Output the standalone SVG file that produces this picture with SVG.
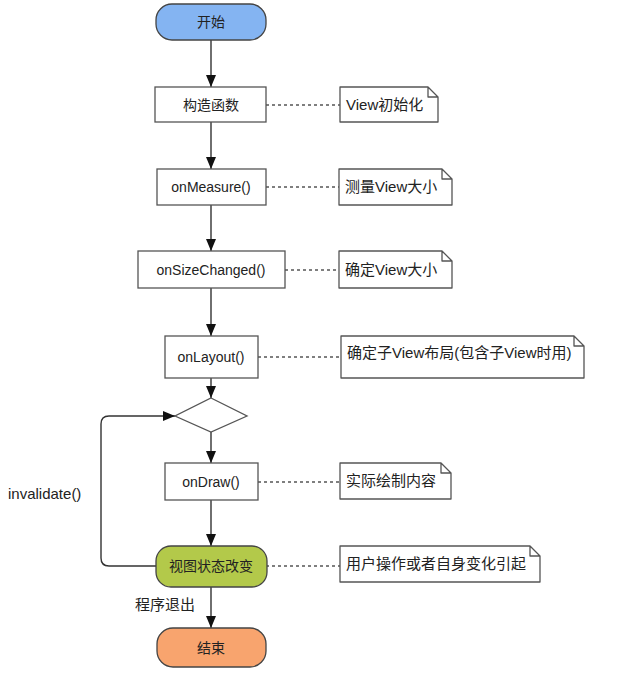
<svg xmlns="http://www.w3.org/2000/svg" width="621" height="695" viewBox="0 0 621 695">
<style>
.box{fill:#fff;stroke:#555;stroke-width:1.3}
.note{fill:#fff;stroke:#555;stroke-width:1.3;stroke-linejoin:round}
.t{font-family:"Liberation Sans","Noto Sans CJK SC",sans-serif;font-size:14px;fill:#222;text-anchor:middle;dominant-baseline:central}
.nt{font-family:"Liberation Sans","Noto Sans CJK SC",sans-serif;font-size:15px;fill:#222;dominant-baseline:central}
.edge{stroke:#333;stroke-width:1.4;fill:none}
.dot{stroke:#555;stroke-width:1.4;stroke-dasharray:3 3;fill:none}
</style>
<defs>
<marker id="ah" markerWidth="12" markerHeight="12" viewBox="0 0 12 12" refX="12" refY="6" orient="auto" markerUnits="userSpaceOnUse">
<path d="M0,1 L12,6 L0,11 Z" fill="#111"/>
</marker>
</defs>
<rect width="621" height="695" fill="#fff"/>
<g id="connectors">
<line class="edge" x1="211" y1="40" x2="211" y2="87" marker-end="url(#ah)"/>
<line class="edge" x1="211" y1="122" x2="211" y2="169" marker-end="url(#ah)"/>
<line class="edge" x1="211" y1="205" x2="211" y2="251" marker-end="url(#ah)"/>
<line class="edge" x1="211" y1="288" x2="211" y2="336" marker-end="url(#ah)"/>
<line class="edge" x1="211" y1="378" x2="211" y2="398" marker-end="url(#ah)"/>
<line class="edge" x1="211" y1="432" x2="211" y2="463" marker-end="url(#ah)"/>
<line class="edge" x1="211" y1="500" x2="211" y2="546" marker-end="url(#ah)"/>
<line class="edge" x1="211" y1="587" x2="211" y2="628" marker-end="url(#ah)"/>
<path class="edge" d="M156,566 H109 Q101,566 101,558 V424 Q101,416 109,416 H175" marker-end="url(#ah)"/>
<line class="dot" x1="266" y1="105" x2="340" y2="105"/>
<line class="dot" x1="266" y1="187" x2="339" y2="187"/>
<line class="dot" x1="285" y1="270" x2="339" y2="270"/>
<line class="dot" x1="258" y1="357" x2="341" y2="357"/>
<line class="dot" x1="258" y1="482" x2="340" y2="482"/>
<line class="dot" x1="266" y1="566" x2="340" y2="566"/>
<text class="nt" x="8" y="493">invalidate()</text>
<text class="nt" x="135" y="604">程序退出</text>
</g>
<g id="start">
<rect x="156" y="4" width="110" height="36" rx="16" fill="#84b4f2" stroke="#444" stroke-width="1.3"/>
<text class="t" x="211" y="22">开始</text>
</g>
<g id="ctor">
<rect class="box" x="155" y="87" width="111" height="35"/>
<text class="t" x="211" y="105">构造函数</text>
</g>
<g id="onMeasure">
<rect class="box" x="157" y="169" width="109" height="36"/>
<text class="t" x="211" y="187">onMeasure()</text>
</g>
<g id="onSizeChanged">
<rect class="box" x="138" y="251" width="147" height="37"/>
<text class="t" x="211" y="270">onSizeChanged()</text>
</g>
<g id="onLayout">
<rect class="box" x="165" y="336" width="93" height="42"/>
<text class="t" x="211" y="357">onLayout()</text>
</g>
<g id="decision">
<polygon class="box" points="211,398 247,416 211,432 175,416"/>
</g>
<g id="onDraw">
<rect class="box" x="165" y="463" width="93" height="37"/>
<text class="t" x="211" y="482">onDraw()</text>
</g>
<g id="stateChange">
<rect x="156" y="546" width="111" height="41" rx="15" fill="#b3c94a" stroke="#444" stroke-width="1.3"/>
<text class="t" x="211" y="566">视图状态改变</text>
</g>
<g id="end">
<rect x="157" y="628" width="109" height="39" rx="16" fill="#f8a46e" stroke="#444" stroke-width="1.3"/>
<text class="t" x="211" y="648">结束</text>
</g>
<g id="note1">
<path class="note" d="M340,87 H428 L438,97 V122 H340 Z M428,87 V97 H438"/>
<text class="nt" x="346" y="104">View初始化</text>
</g>
<g id="note2">
<path class="note" d="M339,169 H442 L452,179 V205 H339 Z M442,169 V179 H452"/>
<text class="nt" x="345" y="186">测量View大小</text>
</g>
<g id="note3">
<path class="note" d="M339,251 H442 L452,261 V288 H339 Z M442,251 V261 H452"/>
<text class="nt" x="345" y="269">确定View大小</text>
</g>
<g id="note4">
<path class="note" d="M341,336 H574 L584,346 V378 H341 Z M574,336 V346 H584"/>
<text class="nt" x="347" y="352">确定子View布局(包含子View时用)</text>
</g>
<g id="note5">
<path class="note" d="M340,463 H441 L451,473 V499 H340 Z M441,463 V473 H451"/>
<text class="nt" x="346" y="480">实际绘制内容</text>
</g>
<g id="note6">
<path class="note" d="M340,546 H530 L540,556 V582 H340 Z M530,546 V556 H540"/>
<text class="nt" x="346" y="563">用户操作或者自身变化引起</text>
</g>
</svg>
